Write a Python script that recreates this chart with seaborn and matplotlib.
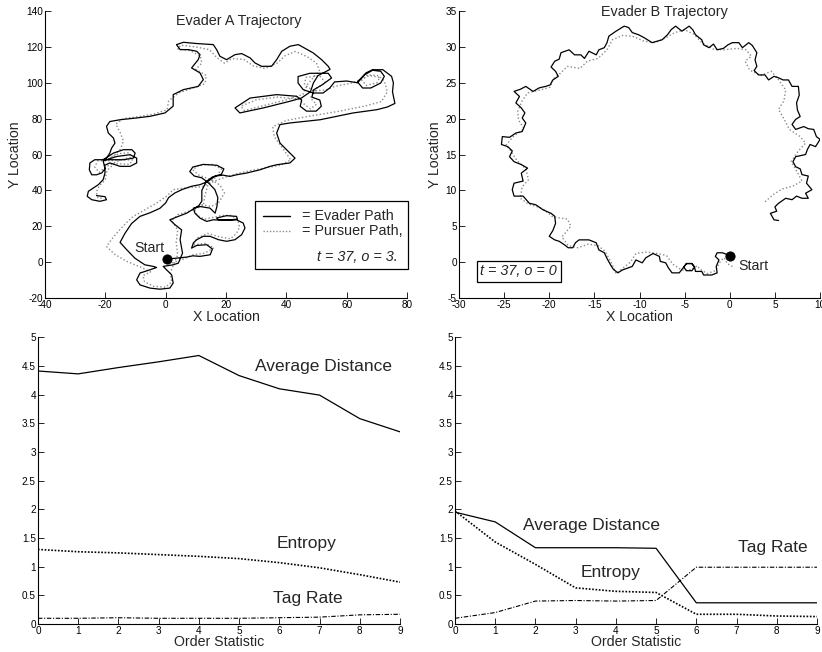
import matplotlib
matplotlib.use("Agg")
import matplotlib.pyplot as plt
import seaborn as sns
import numpy as np
import pandas as pd
from matplotlib.patches import Rectangle
from matplotlib.ticker import FuncFormatter

# ---------------- data ----------------
# Evader A trajectory (solid) and pursuer (dotted)
evaderA_x = [0.3, 3.6, 7.0, 9.0, 11.4, 14.8, 15.5, 13.6, 10.3, 8.6, 9.2, 10.3, 12.5, 14.7, 17.5, 20.2, 23.0, 25.2,
             26.3, 25.7, 23.5, 21.3, 17.5, 16.9, 20.2, 23.5, 23.8, 19.1, 15.8, 13.6, 11.4, 9.7, 9.2, 11.4, 14.7, 16.4,
             17.0, 17.3, 16.3, 14.3, 12.0, 9.5, 8.0, 9.0, 12.5, 17.0, 19.3, 18.5, 15.5, 13.5, 12.0, 12.0, 11.0, 7.0,
             4.2, 1.4, 3.0, 5.3, 4.8, 5.6, 4.2, 2.5, -0.8, 0.3, 2.0, 2.5, 1.4, -1.9, -5.2, -8.5, -9.6, -8.5, -5.2,
             -3.0, -4.1, -6.9, -10.2, -12.9, -15.1, -13.5, -11.3, -8.5, -5.2, -1.9, 0.0, 1.0, 3.0, 5.5, 8.6, 11.4,
             14.0, 16.5, 19.0, 21.3, 23.5, 26.9, 31.3, 34.6, 36.8, 41.2, 42.9, 41.2, 37.9, 36.8, 37.9, 41.2, 51.2,
             62.2, 70.0, 73.5, 76.0, 75.2, 75.5, 74.9, 72.0, 68.6, 66.4, 63.6, 65.3, 68.0, 71.3, 72.5, 71.3, 68.6,
             66.0, 63.6, 60.0, 56.0, 54.4, 52.2, 48.9, 45.6, 43.9, 43.9, 47.8, 53.9, 55.0, 52.0, 49.0, 48.5, 51.1,
             51.6, 49.9, 46.7, 44.6, 45.1, 43.4, 36.8, 28.0, 23.0, 24.6, 32.4, 41.2, 45.0, 48.0, 49.0, 50.5, 54.5,
             53.9, 51.7, 48.9, 44.0, 41.2, 38.5, 36.8, 35.1, 31.8, 29.6, 28.0, 25.2, 23.0, 20.2, 18.0, 16.9, 15.8,
             10.3, 5.9, 3.6, 4.8, 7.5, 10.3, 11.4, 10.8, 8.6, 11.4, 12.5, 10.8, 5.9, 2.5, 2.5, -0.2, -5.2, -9.6,
             -15.1, -18.5, -19.6, -19.0, -17.3, -16.8, -17.9, -18.5, -19.6, -20.7, -17.3, -14.0, -11.2, -10.1,
             -10.7, -14.0, -18.5, -20.7, -23.5, -25.1, -25.3, -24.5, -22.9, -21.2, -20.1, -20.7, -16.2, -11.8,
             -9.6, -9.6, -11.8, -15.1, -18.5, -20.2, -20.1, -20.7, -22.3, -24.0, -25.6, -26.0, -24.5, -21.8,
             -19.6, -20.1, -22.9]
evaderA_y = [1.7, 2.2, 2.8, 3.5, 3.2, 4.1, 7.3, 9.7, 9.3, 7.8, 10.7, 12.5, 14.4, 14.4, 12.5, 11.6, 12.5, 15.3,
             19.0, 21.8, 23.6, 23.3, 23.6, 24.6, 25.9, 25.5, 23.9, 23.4, 23.6, 22.7, 24.5, 27.3, 30.1, 31.0, 30.1,
             27.3, 31.0, 36.0, 40.5, 44.0, 47.0, 48.0, 50.5, 53.0, 54.5, 54.0, 52.0, 49.0, 47.5, 45.0, 40.0, 34.0,
             31.5, 27.3, 25.5, 23.6, 21.0, 18.0, 12.5, 5.0, -0.6, -1.5, -2.4, -4.3, -7.1, -11.7, -14.5, -15.1,
             -14.5, -12.7, -9.9, -6.1, -4.3, -3.0, -2.4, -1.5, 2.2, 6.9, 11.0, 16.0, 21.5, 25.5, 27.5, 30.0, 33.0,
             36.0, 38.5, 40.5, 42.3, 43.2, 45.0, 48.0, 48.5, 47.8, 48.7, 49.7, 51.5, 53.4, 54.3, 55.3, 58.0, 60.8,
             66.4, 72.0, 76.7, 77.6, 79.4, 83.2, 85.0, 86.5, 88.5, 95.0, 100.0, 103.6, 107.3, 107.3, 105.5, 100.5,
             97.1, 97.1, 99.9, 103.6, 106.4, 107.0, 104.5, 100.0, 101.0, 100.5, 97.1, 94.3, 94.3, 96.2, 99.9,
             103.5, 105.3, 105.3, 102.7, 99.0, 96.0, 92.0, 90.4, 86.9, 84.2, 84.2, 86.9, 90.4, 92.5, 93.4, 91.5,
             86.0, 83.2, 86.0, 89.7, 91.5, 95.0, 100.0, 104.0, 107.5, 109.2, 112.9, 116.7, 121.3, 120.4, 117.6,
             112.9, 109.2, 109.2, 111.1, 113.9, 116.3, 115.7, 112.9, 114.8, 118.5, 121.3, 121.9, 122.6, 121.3,
             118.5, 118.5, 117.6, 115.7, 112.9, 108.3, 105.5, 101.8, 98.0, 96.2, 93.4, 87.0, 83.2, 81.3, 80.4,
             79.4, 78.4, 75.7, 72.0, 69.2, 66.4, 63.6, 60.8, 58.0, 57.1, 60.8, 62.7, 62.7, 60.8, 58.0, 57.1, 57.1,
             57.1, 57.1, 55.3, 51.5, 48.7, 48.7, 49.7, 52.0, 56.5, 58.9, 59.9, 58.0, 55.3, 53.4, 53.4, 55.3, 54.0,
             49.7, 46.0, 43.2, 41.3, 39.5, 36.7, 34.8, 33.9, 34.8, 36.5, 37.1]
pursuerA_x = [1.0, 5.0, 9.0, 13.0, 16.0, 13.0, 9.0, 10.5, 14.0, 18.0, 21.5, 23.5, 24.5, 24.0, 22.0, 18.5, 16.0,
              13.0, 10.5, 9.5, 12.0, 15.0, 17.5, 19.5, 18.0, 15.0, 11.0, 9.0, 11.0, 15.5, 18.5, 17.0, 14.0, 13.0,
              12.5, 8.0, 4.0, 2.0, 4.0, 3.5, 4.0, 2.5, 1.5, 2.0, 0.0, -4.0, -7.0, -7.5, -5.0, -8.0, -13.0, -17.0,
              -19.6, -18.0, -16.2, -13.0, -10.7, -6.5, -3.0, 0.5, 2.5, 7.0, 12.0, 16.0, 20.0, 24.0, 28.0, 33.0,
              38.0, 41.5, 39.0, 36.0, 35.5, 40.0, 48.0, 57.0, 66.0, 71.5, 73.5, 72.5, 70.5, 67.0, 65.0, 66.5, 70.0,
              71.0, 67.5, 62.0, 56.0, 53.0, 49.0, 46.0, 46.5, 51.0, 53.0, 50.0, 48.0, 50.0, 48.0, 46.0, 44.0, 37.0,
              30.0, 25.0, 26.0, 33.0, 40.0, 45.5, 47.0, 49.0, 51.0, 50.0, 47.0, 43.0, 39.5, 37.0, 33.0, 29.0, 26.0,
              22.0, 19.5, 17.0, 14.5, 10.0, 5.0, 4.0, 8.0, 11.5, 12.0, 10.0, 13.5, 13.0, 9.0, 4.5, 1.0, 0.5, -4.0,
              -9.5, -14.0, -16.5, -15.0, -14.0, -15.0, -17.0, -19.0, -15.5, -12.0, -11.5, -15.0, -19.0, -22.5,
              -23.5, -22.0, -20.0, -15.0, -11.0, -12.0, -17.0, -19.5, -20.0, -22.0, -23.0, -22.5, -20.5]
pursuerA_y = [-1.0, 1.0, 4.0, 5.0, 8.0, 10.5, 9.5, 13.5, 16.0, 14.0, 13.0, 16.0, 19.5, 23.0, 26.0, 26.0, 25.0,
              24.0, 26.0, 29.5, 32.0, 31.0, 33.0, 38.5, 43.0, 46.0, 48.5, 51.5, 54.0, 54.5, 52.0, 48.0, 43.0, 37.0,
              31.5, 28.5, 26.5, 23.0, 18.0, 11.0, 4.0, -2.0, -6.0, -11.0, -14.0, -13.5, -11.0, -7.5, -5.5, -3.0,
              0.5, 4.5, 8.7, 12.5, 16.2, 22.0, 25.5, 29.5, 32.9, 37.0, 40.4, 41.5, 42.0, 45.0, 47.5, 49.5, 51.0,
              52.5, 54.0, 57.0, 63.0, 70.0, 75.5, 79.0, 81.5, 84.0, 87.0, 89.5, 95.0, 101.0, 104.0, 104.5, 101.5,
              98.5, 100.0, 103.0, 104.0, 100.0, 98.0, 96.0, 95.5, 99.0, 103.0, 104.0, 100.0, 97.0, 91.5, 88.0, 85.5,
              88.0, 91.0, 92.0, 90.5, 87.0, 84.5, 87.5, 90.5, 93.5, 99.0, 103.0, 107.0, 111.0, 114.5, 117.5, 115.0,
              111.0, 108.0, 109.5, 113.0, 113.5, 111.0, 114.0, 118.5, 120.0, 121.0, 119.0, 118.0, 115.0, 111.0,
              107.5, 104.0, 99.5, 97.0, 94.5, 90.0, 85.0, 82.5, 81.0, 80.0, 77.0, 72.0, 67.5, 63.0, 59.5, 57.5,
              60.5, 61.0, 58.5, 57.0, 56.5, 56.5, 53.0, 50.0, 53.0, 57.0, 57.0, 54.5, 55.0, 51.0, 46.0, 42.5, 39.0,
              36.0, 35.5]

# Evader B trajectory (solid zig-zag) and pursuer (dotted)
evaderB_x = [0.0, -0.8, -1.4, -1.6, -1.2, -1.5, -1.4, -2.0, -2.9, -3.1, -3.8, -3.9, -4.2, -4.8, -5.1, -4.8, -4.2,
             -3.9, -4.2, -4.8, -5.1, -5.6, -6.4, -6.8, -7.1, -7.7, -7.8, -8.5, -9.3, -9.7, -10.4, -10.8, -11.9,
             -12.4, -12.9, -13.2, -13.6, -13.9, -14.5, -14.8, -15.6, -16.7, -17.1, -17.4, -17.9, -18.3, -18.9,
             -19.4, -20.0, -19.6, -19.3, -19.4, -19.8, -20.7, -21.5, -22.2, -22.9, -23.9, -24.1, -23.9, -22.9,
             -23.1, -22.4, -23.1, -23.9, -24.4, -24.1, -24.6, -25.3, -25.2, -24.4, -23.7, -23.0, -22.6, -23.0,
             -22.7, -23.1, -23.7, -23.3, -23.9, -23.2, -22.6, -21.8, -21.1, -20.4, -19.9, -19.6, -19.0, -19.3,
             -19.8, -19.4, -18.9, -18.7, -17.8, -17.2, -16.5, -16.1, -15.6, -14.8, -14.5, -13.9, -13.6, -13.4,
             -12.6, -11.7, -11.2, -10.8, -10.1, -9.5, -8.6, -7.5, -6.9, -6.5, -6.0, -5.3, -4.5, -4.1, -3.8, -3.1,
             -2.9, -2.3, -1.8, -1.4, -0.7, -0.2, 0.3, 1.0, 1.4, 2.1, 2.5, 3.0, 2.8, 3.0, 2.7, 3.2, 3.9, 4.3, 4.9,
             5.4, 5.9, 6.5, 6.9, 7.6, 7.7, 7.4, 7.5, 7.8, 7.3, 6.9, 7.3, 8.2, 8.7, 9.3, 9.6, 10.0, 9.5, 8.9, 8.6,
             8.4, 7.3, 7.0, 7.3, 7.8, 8.0, 8.7, 8.5, 9.1, 8.4, 8.7, 8.0, 7.4, 6.9, 6.2, 5.4, 5.0, 5.2, 4.5, 4.9, 5.4]
evaderB_y = [0.9, 1.3, 1.3, 0.8, 0.3, -0.6, -1.5, -1.8, -1.8, -1.3, -1.3, -0.7, -0.2, -0.2, -0.7, -1.2, -1.2,
             -0.7, -0.2, -0.2, -0.7, -1.5, -1.5, -0.8, -0.1, 0.1, 0.8, 1.2, 0.6, -0.1, 0.3, -0.6, -1.1, -1.5, -1.0,
             -0.4, 0.5, 1.3, 1.7, 2.7, 3.1, 3.1, 2.7, 2.0, 2.0, 2.4, 2.9, 3.1, 3.6, 4.4, 5.4, 6.4, 6.8, 7.3, 8.0,
             8.2, 9.2, 9.2, 10.1, 11.0, 11.3, 12.4, 13.1, 13.6, 14.0, 14.7, 15.5, 16.1, 16.4, 17.5, 17.4, 18.0,
             18.2, 19.4, 20.1, 20.8, 21.5, 22.2, 23.1, 23.8, 24.1, 24.5, 23.8, 24.3, 24.5, 24.7, 25.4, 25.9, 26.6,
             27.2, 28.0, 28.3, 29.2, 29.6, 28.9, 28.9, 28.4, 29.4, 28.9, 29.6, 29.9, 30.6, 31.5, 32.2, 32.9, 32.7,
             32.0, 31.7, 31.3, 30.6, 31.0, 31.7, 32.4, 32.9, 32.2, 32.9, 32.4, 31.7, 31.0, 30.3, 29.9, 30.4, 29.6,
             29.8, 30.3, 30.6, 30.6, 29.9, 30.6, 30.2, 29.2, 28.2, 27.3, 26.7, 26.1, 26.1, 25.4, 25.9, 25.7, 25.4,
             25.4, 24.5, 24.5, 23.3, 22.2, 21.2, 20.3, 19.9, 19.2, 18.5, 18.9, 18.6, 18.5, 17.5, 17.1, 16.1, 16.4,
             15.7, 15.0, 14.7, 14.0, 13.3, 13.0, 12.2, 12.0, 11.0, 10.1, 9.6, 8.9, 8.9, 9.2, 8.7, 8.9, 8.2, 7.7,
             7.1, 6.8, 5.9, 5.8]
pursuerB_x = [0.3, -0.3, -0.6, -1.0, -1.6, -2.5, -3.3, -3.6, -4.2, -5.0, -5.6, -6.3, -7.0, -8.0, -9.2, -10.4,
              -11.0, -12.0, -12.6, -13.0, -13.8, -14.6, -15.7, -16.8, -17.9, -18.6, -17.6, -18.0, -19.6, -20.8,
              -22.3, -23.2, -23.0, -22.3, -22.6, -23.6, -24.3, -24.8, -24.0, -22.8, -23.4, -23.5, -23.0, -22.4,
              -21.0, -19.9, -19.6, -18.8, -18.0, -16.6, -15.8, -14.6, -13.6, -13.0, -11.9, -10.8, -9.5, -8.3,
              -7.2, -6.1, -5.0, -4.0, -3.0, -1.8, -0.6, 0.8, 1.8, 2.4, 1.7, 2.2, 3.4, 4.6, 5.3, 6.2, 6.0, 5.4,
              6.0, 6.6, 7.8, 8.4, 7.6, 6.8, 7.5, 8.0, 7.0, 5.8, 4.8, 3.9]
pursuerB_y = [-0.6, -0.2, 0.6, 0.2, -1.2, -1.6, -1.0, -0.5, -1.0, -1.2, -0.9, -0.3, 0.9, 1.2, 1.4, 1.2, 0.0,
              -1.0, -1.6, -0.4, 1.5, 2.3, 2.5, 2.0, 2.3, 3.5, 5.0, 6.0, 6.3, 7.5, 8.1, 8.9, 10.5, 11.5, 13.0, 14.2,
              15.6, 16.3, 17.5, 18.6, 19.8, 21.0, 22.5, 23.6, 24.0, 24.4, 25.5, 26.3, 27.3, 27.0, 28.0, 28.4, 29.6,
              31.0, 31.6, 31.5, 30.8, 30.6, 31.2, 32.0, 32.4, 31.8, 30.5, 29.7, 29.6, 29.8, 29.6, 28.7, 28.0, 26.8,
              26.0, 26.6, 25.6, 24.0, 22.5, 21.3, 20.0, 18.5, 17.5, 16.6, 15.5, 14.0, 12.5, 11.3, 10.6, 10.2, 9.4,
              8.4]

# Order-statistic panels
order_stat = [0, 1, 2, 3, 4, 5, 6, 7, 8, 9]
A_avg_dist = [4.41, 4.36, 4.47, 4.57, 4.68, 4.33, 4.10, 3.99, 3.58, 3.35]
A_entropy = [1.30, 1.26, 1.24, 1.21, 1.18, 1.14, 1.07, 0.98, 0.86, 0.73]
A_tag_rate = [0.10, 0.10, 0.11, 0.10, 0.10, 0.10, 0.11, 0.12, 0.16, 0.17]
B_avg_dist = [1.95, 1.78, 1.33, 1.33, 1.33, 1.32, 0.37, 0.37, 0.37, 0.37]
B_entropy = [1.97, 1.43, 1.04, 0.63, 0.57, 0.55, 0.17, 0.17, 0.14, 0.13]
B_tag_rate = [0.10, 0.20, 0.40, 0.41, 0.40, 0.41, 0.99, 0.99, 0.99, 0.99]

# ---------------- style ----------------
sns.set_theme(style="ticks")
plt.rcParams['font.family'] = ['Liberation Sans', 'DejaVu Sans']
plt.rcParams['axes.unicode_minus'] = False
plt.rcParams['axes.linewidth'] = 0.8
plt.rcParams['axes.edgecolor'] = 'black'

fig = plt.figure(figsize=(8.22, 6.52), dpi=100)
axTL = fig.add_axes([0.0547, 0.543, 0.4404, 0.440])
axTR = fig.add_axes([0.5584, 0.543, 0.4392, 0.440])
axBL = fig.add_axes([0.0462, 0.0429, 0.4404, 0.440])
axBR = fig.add_axes([0.5535, 0.0429, 0.4404, 0.440])

fmt = FuncFormatter(lambda v, p: "%g" % v)
TICK_FS = 7.2
LABEL_FS = 10.2

for ax in (axTL, axTR, axBL, axBR):
    for s in ('top', 'right'):
        ax.spines[s].set_visible(False)
    ax.spines['left'].set_color('black')
    ax.spines['bottom'].set_color('black')
    ax.tick_params(direction='in', length=4, width=0.6, labelsize=TICK_FS, pad=1.5,
                   colors='black')
    ax.xaxis.set_major_formatter(fmt)
    ax.yaxis.set_major_formatter(fmt)
    ax.set_facecolor('white')

EV_KW = dict(color='black', linewidth=0.9, sort=False, estimator=None)
PU_KW = dict(color='#8a8a8a', linewidth=1.0, sort=False, estimator=None)

# ---------------- top-left: Evader A ----------------
dfA_p = pd.DataFrame({'x': pursuerA_x, 'y': pursuerA_y})
dfA_e = pd.DataFrame({'x': evaderA_x, 'y': evaderA_y})
sns.lineplot(data=dfA_p, x='x', y='y', ax=axTL, linestyle=(0, (1, 1.6)), **PU_KW)
sns.lineplot(data=dfA_e, x='x', y='y', ax=axTL, **EV_KW)
sns.scatterplot(x=[evaderA_x[0]], y=[evaderA_y[0]], ax=axTL, color='black', s=45, edgecolor='black', zorder=5)
axTL.set_xlim(-40, 80)
axTL.set_ylim(-20, 140)
axTL.set_xticks(np.arange(-40, 81, 20))
axTL.set_yticks(np.arange(-20, 141, 20))
axTL.set_xlabel('X Location', fontsize=LABEL_FS, labelpad=0)
axTL.set_ylabel('Y Location', fontsize=LABEL_FS, labelpad=3)
axTL.text(0.536, 0.965, 'Evader A Trajectory', transform=axTL.transAxes, ha='center', va='center',
          fontsize=10.4)
axTL.text(-10.4, 8.0, 'Start', fontsize=10.2, ha='left', va='center')
# legend box
axTL.add_patch(Rectangle((0.580, 0.101), 0.423, 0.237, transform=axTL.transAxes, fill=True,
                         facecolor='white', edgecolor='black', linewidth=0.9, zorder=6, clip_on=False))
axTL.plot([0.602, 0.677], [0.286, 0.286], transform=axTL.transAxes, color='black', lw=1.0, zorder=7)
axTL.plot([0.602, 0.677], [0.233, 0.233], transform=axTL.transAxes, color='#8a8a8a', lw=1.0,
          linestyle=(0, (1, 1.3)), zorder=7)
axTL.text(0.710, 0.286, '= Evader Path', transform=axTL.transAxes, fontsize=10.4, ha='left', va='center', zorder=8)
axTL.text(0.710, 0.233, '= Pursuer Path,', transform=axTL.transAxes, fontsize=10.4, ha='left', va='center', zorder=8)
axTL.text(0.975, 0.143, 't = 37, o = 3.', transform=axTL.transAxes, fontsize=10.4, ha='right', va='center',
          style='italic', zorder=8)

# ---------------- top-right: Evader B ----------------
dfB_p = pd.DataFrame({'x': pursuerB_x, 'y': pursuerB_y})
dfB_e = pd.DataFrame({'x': evaderB_x, 'y': evaderB_y})
sns.lineplot(data=dfB_p, x='x', y='y', ax=axTR, linestyle=(0, (1, 1.6)), **PU_KW)
sns.lineplot(data=dfB_e, x='x', y='y', ax=axTR, **EV_KW)
sns.scatterplot(x=[evaderB_x[0]], y=[evaderB_y[0]], ax=axTR, color='black', s=45, edgecolor='black', zorder=5)
axTR.set_xlim(-30, 10)
axTR.set_ylim(-5, 35)
axTR.set_xticks(np.arange(-30, 11, 5))
axTR.set_yticks(np.arange(-5, 36, 5))
axTR.set_xlabel('X Location', fontsize=LABEL_FS, labelpad=0)
axTR.set_ylabel('Y Location', fontsize=LABEL_FS, labelpad=3)
axTR.text(0.568, 0.997, 'Evader B Trajectory', transform=axTR.transAxes, ha='center', va='center',
          fontsize=10.4)
axTR.text(1.0, -0.5, 'Start', fontsize=10.2, ha='left', va='center')
axTR.text(0.165, 0.093, 't = 37, o = 0', transform=axTR.transAxes, fontsize=10.4, ha='center', va='center',
          style='italic',
          bbox=dict(boxstyle='square,pad=0.25', facecolor='white', edgecolor='black', linewidth=0.9))

# ---------------- bottom panels ----------------
def order_panel(ax, avg, ent, tag, labels):
    sns.lineplot(x=order_stat, y=avg, ax=ax, color='black', linewidth=0.9, estimator=None)
    sns.lineplot(x=order_stat, y=ent, ax=ax, color='black', linewidth=1.2, linestyle=(0, (1, 1)),
                 estimator=None)
    sns.lineplot(x=order_stat, y=tag, ax=ax, color='black', linewidth=0.8,
                 linestyle=(0, (4, 1.5, 1, 1.5)), estimator=None)
    ax.set_xlim(0, 9)
    ax.set_ylim(0, 5)
    ax.set_xticks(order_stat)
    ax.set_yticks(np.arange(0, 5.01, 0.5))
    ax.set_xlabel('Order Statistic', fontsize=LABEL_FS, labelpad=-1)
    ax.set_ylabel('')
    for (tx, ty, s) in labels:
        ax.text(tx, ty, s, fontsize=12.5, ha='left', va='center')

order_panel(axBL, A_avg_dist, A_entropy, A_tag_rate,
            [(5.39, 4.48, 'Average Distance'), (5.93, 1.40, 'Entropy'), (5.85, 0.45, 'Tag Rate')])
order_panel(axBR, B_avg_dist, B_entropy, B_tag_rate,
            [(1.68, 1.72, 'Average Distance'), (3.12, 0.90, 'Entropy'), (7.04, 1.33, 'Tag Rate')])

fig.savefig('out.png', dpi=100, facecolor='white')
